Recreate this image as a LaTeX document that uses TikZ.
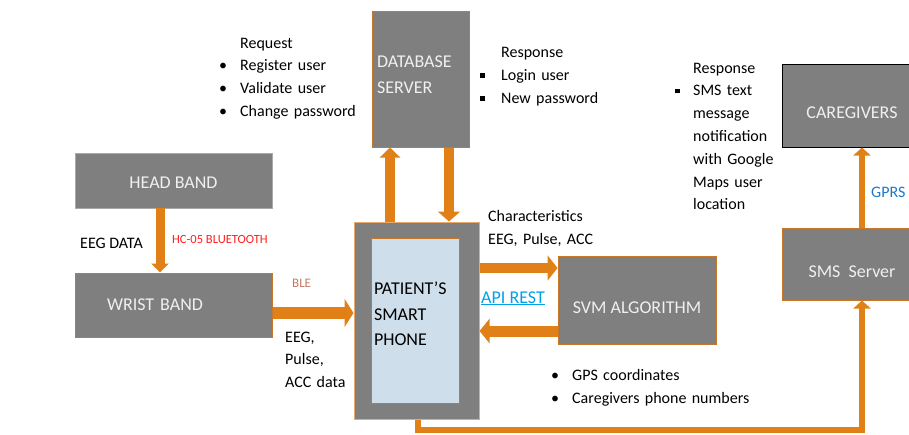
\documentclass[tikz,border=0pt]{standalone}
\usepackage{fontspec}
\setmainfont{Carlito}
\usetikzlibrary{arrows.meta}
\definecolor{arr}{RGB}{226,128,24}
\definecolor{bord}{RGB}{200,118,40}
\definecolor{phonebord}{RGB}{232,170,110}
\definecolor{headbord}{RGB}{170,170,170}
\definecolor{boxgray}{RGB}{127,127,127}
\definecolor{boxtext}{RGB}{240,240,240}
\definecolor{lblue}{RGB}{206,222,234}
\definecolor{hcred}{RGB}{255,30,30}
\definecolor{blebrown}{RGB}{196,120,100}
\definecolor{apiblue}{RGB}{0,160,230}
\definecolor{gprsblue}{RGB}{30,120,200}
\newcommand\bul{\makebox[22pt][l]{\hspace{1pt}•}}
\newcommand\sqb{\makebox[21pt][l]{\raisebox{2.5pt}{\rule{4.5pt}{4.5pt}}}}
\newcommand\sqc{\makebox[18pt][l]{\raisebox{2.5pt}{\rule{4.5pt}{4.5pt}}}}
\begin{document}
\begin{tikzpicture}[x=1pt,y=-1pt,
  box/.style={draw=bord, line width=1pt, fill=boxgray, inner sep=0pt,
    font=\fontsize{18}{25.5}\selectfont, text=boxtext},
  txt/.style={inner sep=0pt, anchor=base west, align=left,
    font=\fontsize{16}{22.7}\selectfont, text=black},
  blk/.style={draw=arr, line width=#1},
]
\useasboundingbox (0,0) rectangle (909,434);
\clip (0,0) rectangle (909,434);

% boxes
\node[box, minimum width=97pt, minimum height=136pt, text width=87pt, align=left,
  text height=11.6pt, text depth=34pt] (db) at (420.5,79) {DATABASE\\SERVER};
\node[box, draw=headbord, line width=0.6pt, minimum width=197pt, minimum height=55pt,
  text height=15.6pt, text depth=0pt] (head) at (173.5,180.5) {HEAD BAND};
\node[box, minimum width=197pt, minimum height=64pt, text width=133pt, align=left] (wrist) at (173.5,305) {WRIST BAND};
\node[box, draw=phonebord, minimum width=125pt, minimum height=197pt] (phone) at (416.5,320.5) {};
\node[box, fill=lblue, text=black, minimum width=88pt, minimum height=165pt, text width=82pt, align=left,
  text height=11.6pt, text depth=63pt] (screen) at (415,320.5) {PATIENT’S\\SMART\\PHONE};
\node[box, minimum width=158pt, minimum height=88pt, text height=27pt, text depth=0pt] (svm) at (637,300) {SVM ALGORITHM};
\node[box, draw=black, minimum width=140pt, minimum height=83pt, text height=25pt, text depth=0pt] (care) at (852,105.5) {CAREGIVERS};
\node[box, minimum width=140pt, minimum height=72pt, text height=27pt, text depth=0pt] (sms) at (852,264) {SMS\ \ Server};

% texts
\node[txt, text width=160pt] (req) at (218,48) {\hspace*{22pt}Request\\\bul Register user\\\bul Validate user\\\bul Change password};
\node[txt, text width=140pt, font=\fontsize{16}{23}\selectfont] (dbresp) at (480,57) {\hspace*{21pt}Response\\\sqb Login user\\\sqb New password};
\node[txt, text width=110pt, font=\fontsize{16}{22.8}\selectfont] (smsresp) at (675,73) {\hspace*{18pt}Response\\\sqc SMS text\\\hspace*{18pt}message\\\hspace*{18pt}notification\\\hspace*{18pt}with Google\\\hspace*{18pt}Maps user\\\hspace*{18pt}location};
\node[txt, text width=130pt, font=\fontsize{16}{23}\selectfont] (charac) at (488,221) {Characteristics\\EEG, Pulse, ACC};
\node[txt, text width=220pt, font=\fontsize{16}{23}\selectfont] (gps) at (550,380) {\bul GPS coordinates\\\bul Caregivers phone numbers};
\node[txt, text width=80pt, font=\fontsize{16}{22.5}\selectfont] (eegpulse) at (285,342) {EEG,\\Pulse,\\ACC data};
\node[txt] (eegdata) at (80,248) {EEG DATA};
\node[txt, font=\fontsize{12.5}{14}\selectfont, text=hcred] (hc) at (172,243) {HC-05 BLUETOOTH};
\node[txt, font=\fontsize{13}{15}\selectfont, text=blebrown] (ble) at (292,287) {BLE};
\node[txt, font=\fontsize{18}{20}\selectfont, text=apiblue] (api) at (481,303) {\underline{API REST}};
\node[txt, text=gprsblue] (gprs) at (871,197) {GPRS};

% helper coordinates
\coordinate (hx) at (160,0);
\coordinate (upx) at (390,0);
\coordinate (dnx) at (449,0);
\coordinate (wy) at (0,313);
\coordinate (toy) at (0,268);
\coordinate (backy) at (0,331);
\coordinate (bend1) at (418,430);
\coordinate (bend2) at (862,430);

% connectors
\draw[blk=9pt, -{Triangle[width=17pt,length=9pt]}] (head.south -| hx) -- (wrist.north -| hx);
\draw[blk=10pt, -{Triangle[width=20pt,length=10pt]}] (phone.north -| upx) -- (db.south -| upx);
\draw[blk=10pt, -{Triangle[width=22pt,length=10pt]}] (db.south -| dnx) -- (phone.north -| dnx);
\draw[blk=12pt, -{Triangle[width=28pt,length=9pt]}] (wrist.east |- wy) -- (phone.west |- wy);
\draw[blk=10pt, -{Triangle[width=25pt,length=10pt]}] (phone.east |- toy) -- (svm.west |- toy);
\draw[blk=11pt, -{Triangle[width=24pt,length=10pt]}] (svm.west |- backy) -- (phone.east |- backy);
\draw[blk=6pt, -{Triangle[width=17pt,length=8pt]}] (phone.south -| bend1) -- (bend1) -- (bend2) -- (sms.south -| bend2);
\draw[blk=6pt, -{Triangle[width=17pt,length=8pt]}] (sms.north -| bend2) -- (care.south -| bend2);
\end{tikzpicture}
\end{document}
